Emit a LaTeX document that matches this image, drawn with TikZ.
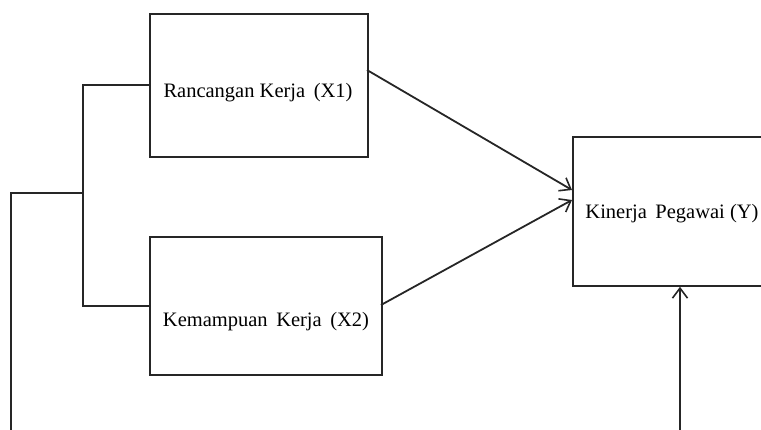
\documentclass[tikz,border=0pt]{standalone}
\usepackage{fontspec}
\setmainfont{Liberation Serif}
\usetikzlibrary{arrows.meta}
\begin{document}
\begin{tikzpicture}[x=1pt,y=-1pt,
  line/.style={draw=black!85,line width=1.8pt},
  box/.style={line,rectangle,inner sep=0pt,anchor=north west},
  lbl/.style={font=\fontsize{20.5}{24}\selectfont,inner sep=0pt,anchor=base},
  arr/.style={line,-{Straight Barb[length=10pt,width=15pt,line width=1.6pt]}}]
  \useasboundingbox (0,0) rectangle (761,430);
  \clip (0,0) rectangle (761,430);
  % boxes
  \node[box,minimum width=218pt,minimum height=143pt] (x1) at (149,13) {};
  \node[box,minimum width=232pt,minimum height=138pt] (x2) at (149,236) {};
  \node[box,minimum width=200pt,minimum height=149pt] (y) at (572,136) {};
  % labels
  \node[lbl] (tx1) at (258,98) {Rancangan Kerja\, (X1)};
  \node[lbl] (tx2) at (266,327) {Kemampuan\, Kerja\, (X2)};
  \node[lbl] (ty) at (672,219) {Kinerja\, Pegawai (Y)};
  % bracket joining both predictors
  \coordinate (bt) at (83,85);
  \coordinate (bb) at (83,306);
  \coordinate (bm) at (83,193);
  \coordinate (lc) at (11,193);
  \coordinate (lb) at (11,440);
  \coordinate (rb) at (680,440);
  \draw[line] (x1.west |- bt) -- (bt) -- (bb) -- (x2.west |- bb);
  \draw[line] (bm) -- (lc) -- (lb);
  % arrows into the dependent variable
  \coordinate (a1) at (367,70);
  \coordinate (a2) at (381,305);
  \draw[arr] (a1) -- (y.west |- 0,190);
  \draw[arr] (a2) -- (y.west |- 0,200);
  \draw[arr] (rb) -- (y.south -| rb);
\end{tikzpicture}
\end{document}
